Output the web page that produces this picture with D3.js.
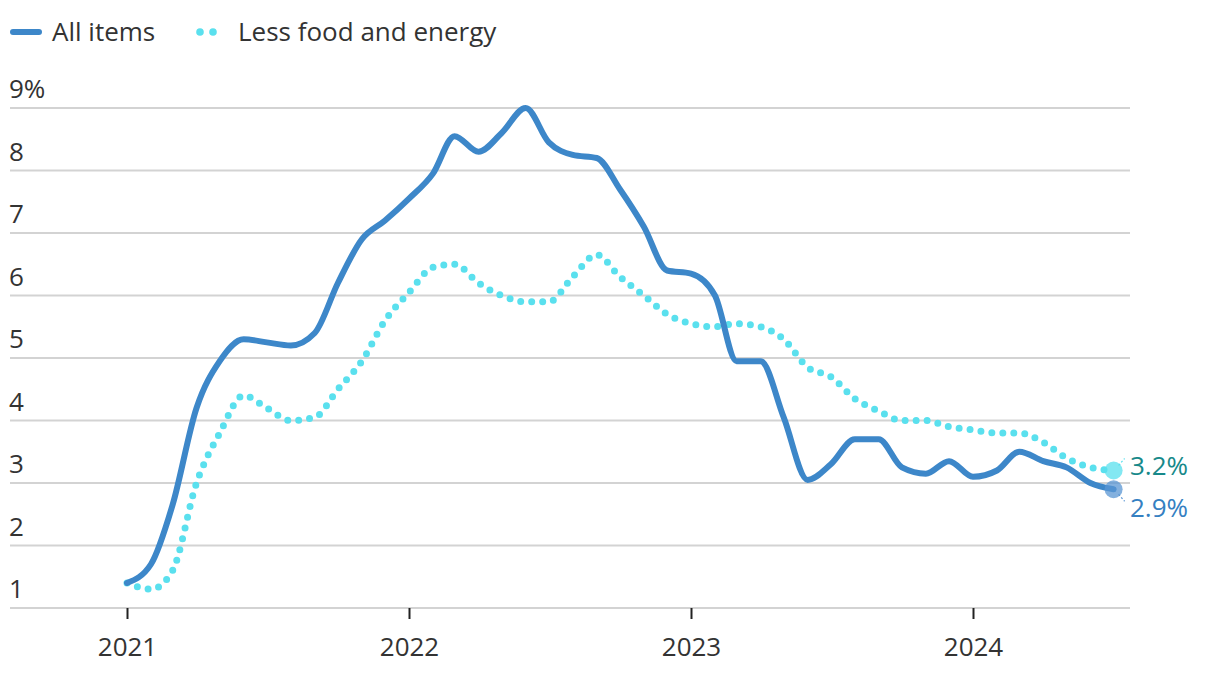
<!DOCTYPE html>
<html>
<head>
<meta charset="utf-8">
<script src="https://cdn.jsdelivr.net/npm/d3@7"></script>
<style>
  body { margin: 0; background: #fff; }
  svg { font-family: "Open Sans", Lato, sans-serif; }
</style>
</head>
<body>
<svg width="1220" height="674"></svg>
<script>
  const months = d3.timeMonths(new Date(2021, 0, 1), new Date(2024, 7, 1));

  // CPI, 12-month change, %
  const allItems = [
    1.4, 1.7, 2.65, 4.2, 4.95, 5.3, 5.25, 5.2, 5.4, 6.2, 6.9, 7.2,
    7.55, 7.95, 8.55, 8.3, 8.6, 9.0, 8.45, 8.25, 8.2, 7.7, 7.1, 6.4,
    6.35, 6.0, 4.95, 4.95, 4.05, 3.05, 3.3, 3.7, 3.7, 3.25, 3.15, 3.35,
    3.1, 3.2, 3.5, 3.35, 3.25, 3.0, 2.9
  ];
  const lessFoodEnergy = [
    1.4, 1.3, 1.6, 3.0, 3.8, 4.4, 4.2, 4.0, 4.05, 4.5, 4.95, 5.6,
    6.05, 6.45, 6.5, 6.2, 6.0, 5.9, 5.9, 6.3, 6.65, 6.3, 6.0, 5.7,
    5.55, 5.5, 5.55, 5.5, 5.3, 4.85, 4.7, 4.35, 4.15, 4.0, 4.0, 3.9,
    3.85, 3.8, 3.8, 3.65, 3.4, 3.25, 3.2
  ];
  const endLabels = ['3.2%', '2.9%'];
  const yTicks = [1, 2, 3, 4, 5, 6, 7, 8, 9];
  const xTicks = [2021, 2022, 2023, 2024];

  const blue = '#3d87c9';
  const cyan = '#5ae0ee';
  const fontSize = 26;

  const svg = d3.select('svg');

  const x = d3.scaleTime()
    .domain([new Date(2021, 0, 1), new Date(2024, 0, 1)])
    .range([127, 973]);
  const y = d3.scaleLinear().domain([1, 9]).range([608, 108]);

  const gridLeft = 10, gridRight = 1130;

  // grid + y labels
  const grid = svg.append('g');
  grid.selectAll('line').data(yTicks).join('line')
    .attr('x1', gridLeft).attr('x2', gridRight)
    .attr('y1', d => y(d)).attr('y2', d => y(d))
    .attr('stroke', '#d3d3d3').attr('stroke-width', 2);
  grid.selectAll('text').data(yTicks).join('text')
    .attr('x', gridLeft - 1).attr('y', d => y(d) - 10)
    .attr('fill', '#333').attr('font-size', fontSize)
    .text(d => d === 9 ? d + '%' : d);

  // x axis
  const xAxis = d3.axisBottom(x)
    .tickValues(xTicks.map(yr => new Date(yr, 0, 1)))
    .tickFormat(d3.timeFormat('%Y'))
    .tickSize(11)
    .tickPadding(19);
  const xg = svg.append('g')
    .attr('transform', `translate(0,${y(1)})`)
    .call(xAxis);
  xg.select('.domain').remove();
  xg.selectAll('.tick line').attr('stroke', '#222').attr('stroke-width', 2);
  xg.selectAll('.tick text')
    .attr('fill', '#333').attr('font-size', fontSize)
    .attr('font-family', '"Open Sans", Lato, sans-serif');

  const line = values => d3.line()
    .x((d, i) => x(months[i]))
    .y(d => y(d))
    .curve(d3.curveMonotoneX)(values);

  svg.append('path')
    .attr('d', line(lessFoodEnergy))
    .attr('fill', 'none')
    .attr('stroke', cyan)
    .attr('stroke-width', 7)
    .attr('stroke-linecap', 'round')
    .attr('stroke-dasharray', '0 11');

  svg.append('path')
    .attr('d', line(allItems))
    .attr('fill', 'none')
    .attr('stroke', blue)
    .attr('stroke-width', 6)
    .attr('stroke-linecap', 'round')
    .attr('stroke-linejoin', 'round');

  // end markers and labels
  const last = months.length - 1;
  const ends = [
    { v: lessFoodEnergy[last], label: endLabels[0], fill: cyan, text: '#17898a', dy: -1 },
    { v: allItems[last], label: endLabels[1], fill: '#5a96d3', text: '#3580c2', dy: 1 }
  ];
  const ex = x(months[last]);
  ends.forEach(e => {
    const ey = y(e.v);
    svg.append('circle')
      .attr('cx', ex).attr('cy', ey).attr('r', 9)
      .attr('fill', e.fill).attr('fill-opacity', 0.75);
    svg.append('line')
      .attr('x1', ex + 5).attr('y1', ey + e.dy * 5)
      .attr('x2', ex + 11).attr('y2', ey + e.dy * 12)
      .attr('stroke', e.fill).attr('stroke-width', 1.2)
      .attr('stroke-dasharray', '2 2');
    svg.append('text')
      .attr('x', 1130)
      .attr('y', e.dy < 0 ? ey + 4 : ey + 28)
      .attr('fill', e.text).attr('font-size', fontSize)
      .text(e.label);
  });

  // legend
  const legend = svg.append('g');
  legend.append('line')
    .attr('x1', 13).attr('x2', 39).attr('y1', 32).attr('y2', 32)
    .attr('stroke', blue).attr('stroke-width', 6).attr('stroke-linecap', 'round');
  legend.append('text')
    .attr('x', 52).attr('y', 41).attr('fill', '#333').attr('font-size', fontSize)
    .text('All items');
  legend.selectAll('circle').data([200, 213]).join('circle')
    .attr('cx', d => d).attr('cy', 32).attr('r', 3.8).attr('fill', cyan);
  legend.append('text')
    .attr('x', 238).attr('y', 41).attr('fill', '#333').attr('font-size', fontSize)
    .text('Less food and energy');
</script>
</body>
</html>
